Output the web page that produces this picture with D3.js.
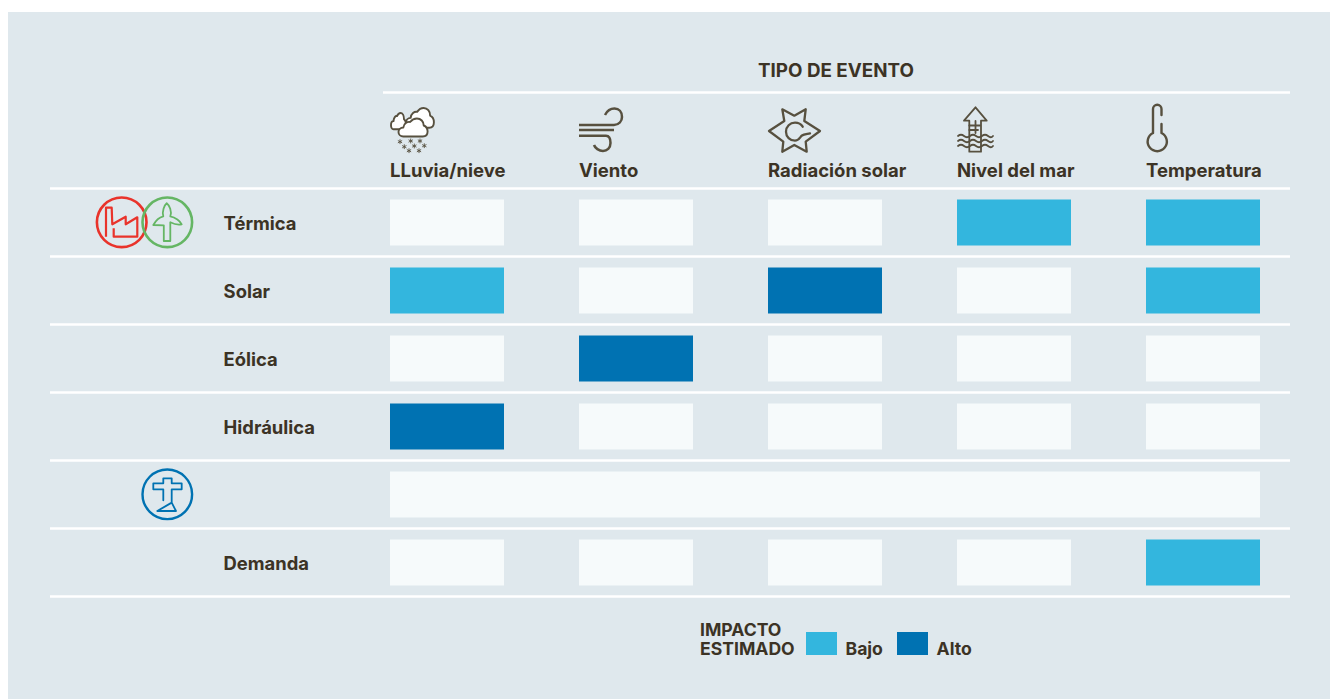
<!DOCTYPE html>
<html>
<head>
<meta charset="utf-8">
<script src="https://cdn.jsdelivr.net/npm/d3@7"></script>
<style>
    html, body { margin: 0; padding: 0; background: #fff; }
    svg { display: block; }
    text { font-family: Inter, "Noto Sans", sans-serif; font-weight: 700; fill: #3c3325; }
</style>
</head>
<body>
<script>
// 0 = sin impacto, 1 = bajo, 2 = alto
const events = ["LLuvia/nieve", "Viento", "Radiación solar", "Nivel del mar", "Temperatura"];
const rowNames = ["Térmica", "Solar", "Eólica", "Hidráulica", "", "Demanda"];
const termica = [0, 0, 0, 1, 1];
const solar = [1, 0, 2, 0, 1];
const eolica = [0, 2, 0, 0, 0];
const hidraulica = [2, 0, 0, 0, 0];
const red = null; // the grid row is one merged cell
const demanda = [0, 0, 0, 0, 1];
const rowValues = [termica, solar, eolica, hidraulica, red, demanda];
const legendLabels = ["Bajo", "Alto"];
const legendLevels = [1, 2];

const width = 1330, height = 699;
const ink = "#57503f", lineColor = "#fff";

const svg = d3.select("body").append("svg")
    .attr("width", width)
    .attr("height", height);

svg.append("rect")
    .attr("x", 8).attr("y", 12)
    .attr("width", width - 8).attr("height", height - 12)
    .attr("fill", "#dfe8ed");

const x = d3.scaleBand().domain(events).range([390, 1260]).paddingInner(75 / 189);
const y = d3.scaleBand().domain(d3.range(rowNames.length)).range([199.5, 585.5]).paddingInner(22 / 68);
const colour = d3.scaleOrdinal().domain([0, 1, 2]).range(["#f6fafb", "#33b6de", "#0072b2"]);

// rules
const ruleYs = d3.range(rowNames.length + 1).map(i => y(0) - 11 + i * y.step());
svg.append("g").selectAll("line")
    .data(ruleYs)
    .join("line")
    .attr("x1", 50).attr("x2", 1290)
    .attr("y1", d => d).attr("y2", d => d)
    .attr("stroke", lineColor).attr("stroke-width", 2.6);

svg.append("line")
    .attr("x1", 383).attr("x2", 1290)
    .attr("y1", 92.5).attr("y2", 92.5)
    .attr("stroke", lineColor).attr("stroke-width", 2.6);

svg.append("text")
    .attr("x", 836).attr("y", 76.5)
    .attr("text-anchor", "middle")
    .attr("font-size", 18.8)
    .text("TIPO DE EVENTO");

// column headers
svg.append("g").selectAll("text")
    .data(events)
    .join("text")
    .attr("x", d => x(d))
    .attr("y", 176.5)
    .attr("font-size", 18.5)
    .text(d => d);

// row labels
svg.append("g").selectAll("text")
    .data(rowNames)
    .join("text")
    .attr("x", 223.6)
    .attr("y", (d, i) => y(i) + 30)
    .attr("font-size", 18.4)
    .text(d => d);

// cells
const rows = svg.append("g").selectAll("g")
    .data(rowValues)
    .join("g")
    .attr("transform", (d, i) => `translate(0,${y(i)})`);

rows.filter(d => d !== null).selectAll("rect")
    .data(d => d.map((v, i) => ({ v, name: events[i] })))
    .join("rect")
    .attr("x", d => x(d.name))
    .attr("width", x.bandwidth())
    .attr("height", y.bandwidth())
    .attr("fill", d => colour(d.v));

rows.filter(d => d === null).append("rect")
    .attr("x", x(events[0]))
    .attr("width", x(events[4]) + x.bandwidth() - x(events[0]))
    .attr("height", y.bandwidth())
    .attr("fill", colour(0));

// legend
const legendText = svg.append("text").attr("font-size", 17.6);
legendText.append("tspan").attr("x", 700).attr("y", 635.7).text("IMPACTO");
legendText.append("tspan").attr("x", 700).attr("y", 654.5).text("ESTIMADO");

const legendX = d3.scalePoint().domain(legendLevels).range([806, 897]);
const legend = svg.append("g").selectAll("g")
    .data(legendLevels)
    .join("g")
    .attr("transform", d => `translate(${legendX(d)},632)`);
legend.append("rect")
    .attr("width", 31).attr("height", 23)
    .attr("fill", d => colour(d));
legend.append("text")
    .attr("x", 39.5).attr("y", 22.5)
    .attr("font-size", 17.6)
    .text((d, i) => legendLabels[i]);

// icons, each drawn in local pixels from its top-left
function icon(px, py, colorStroke, sw) {
    return svg.append("g")
        .attr("transform", `translate(${px},${py})`)
        .attr("fill", "none")
        .attr("stroke", colorStroke)
        .attr("stroke-width", sw)
        .attr("stroke-linejoin", "round")
        .attr("stroke-linecap", "round");
}

// snow cloud
const cloud = icon(390, 107, ink, 1.9);
const cloudPath = "M5 18C2 18 0 16 0 13.500C0 11 2 9 5 9C5.500 5 9 3 12 3.500C14 1 17 0 19 0C23 0 26 3 26 7C28.500 8 30 10 30 13C30 16 28 18 25 18Z";
[[16, 1, .93, 1.1], [1, 6, .5, .9], [8.5, 11.5, .97, 1]].forEach(p => {
    cloud.append("path")
        .attr("fill", "#fff")
        .attr("vector-effect", "non-scaling-stroke")
        .attr("transform", `translate(${p[0]},${p[1]}) scale(${p[2]},${p[3]})`)
        .attr("d", cloudPath);
});
cloud.append("g")
    .attr("stroke-width", .9)
    .selectAll("path")
    .data([[10, 34.7], [20.7, 34], [30, 34], [14.3, 39.7], [24.3, 39], [34.3, 38.7], [19, 43.7], [29, 43.7]])
    .join("path")
    .attr("transform", d => `translate(${d[0]},${d[1]})`)
    .attr("d", "M0-2V2M-1.800-1L1.800 1M-1.800 1L1.800-1");

// wind
const wind = icon(579, 107, ink, 2.5);
wind.append("g").attr("stroke-linecap", "butt").call(g => {
    g.append("path").attr("d", "M0 18H35M0 23H35M0 28.700H27");
    g.append("path").attr("d", "M35 18C40 18 43 14 43 10C43 5 40 1.500 35.500 1.500C31 1.500 28 4 26 8");
    g.append("path").attr("d", "M27 28.700C30 28.700 31.500 32 31.500 36C31.500 41 28 44 24 44C20 44 16 41 15 38");
});

// sun
const sun = icon(769, 107, ink, 2.3);
sun.append("path").attr("d", "M0 24L15.300 14L13.300 2.300L25.300 8.700L36.700 2.300L35.300 14L51 24L36.700 34.700L37.700 44.700L25.300 38L13.300 44.700L14.300 34.700Z");
sun.append("path").attr("d", "M33.700 19.700C32 17 29 15.700 26 15.700C21 15.700 17 19.500 17 24.700C17 30 21 33.700 26 33.700C30 33.700 31 30 33 28.500C35 27 38 27 41 26.300");

// sea level
const sea = icon(958, 107, ink, 1.8);
sea.append("path").attr("d", "M11.300 44.700V13.700H6L17.500 .3L28.700 13.700H23V44.700Z");
sea.append("path").attr("d", "M17.500 14V26M11.300 18.500H22M11.300 23H20");
sea.selectAll("path.wave")
    .data([29, 34, 39])
    .join("path")
    .attr("class", "wave")
    .attr("d", d => `M0 ${d}q3-2.500 6 0t6 0t6 0t6 0t6 0t5 0`);

// thermometer
const thermo = icon(1147, 104, ink, 2.4);
thermo.append("path").attr("d", "M6 29V5A4.250 4.250 0 0 1 14.500 5V11M14.500 20V29A9.600 9.600 0 1 1 6 29");

// plant icons
const thermal = icon(121.7, 222.3, "#e9332b", 2.6);
thermal.append("circle").attr("r", 24.8);
thermal.append("path").attr("stroke-width", 2.2).attr("stroke-linecap", "butt")
    .attr("d", "M-15.700 14.400V-14.600H-10L-9.400 2L4-5.600V2L15.600-5V14.400H-8V6");

const windPlant = icon(167.3, 222.3, "#65b664", 2.6);
windPlant.append("circle").attr("r", 24.8);
windPlant.append("path").attr("stroke-width", 1.8)
    .attr("d", "M-3.500 18.700V3L-14 2.700C-12-1-8-5-4-6C-5.500-11-3-17-.6-19C2-17 5-11 3-6C8-5 13-1 14.400 2C10 3 6 1.500 3 0V18.700Z");

const gridIcon = icon(167.3, 494.3, "#0072b2", 2.4);
gridIcon.append("circle").attr("r", 24.8);
gridIcon.append("path").attr("stroke-width", 1.8)
    .attr("d", "M-4 6V-5H-14V-11H-4V-16H4.400V-11H14.400V-5H4.400V8.300L-10 16.700H8.700L4.400 8.300");
</script>
</body>
</html>
